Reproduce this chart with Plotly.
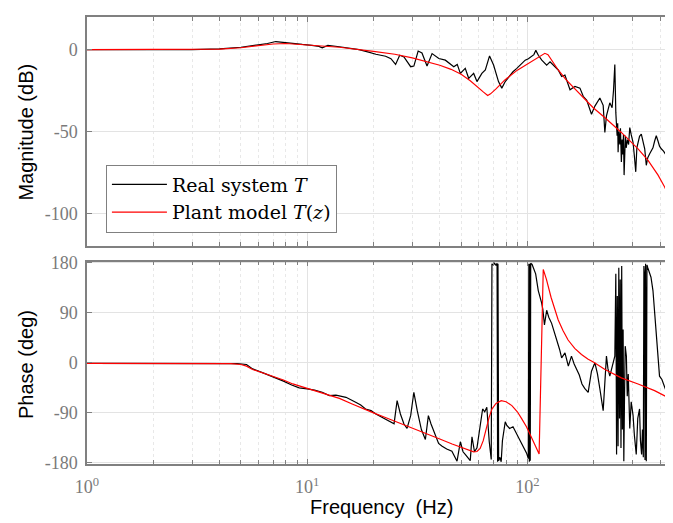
import plotly.graph_objects as go

# ---------------- data ----------------
real_mag_freq = [1.0, 2.0, 3.0, 4.0, 5.0, 6.0, 6.6, 7.2, 7.8, 8.5,
                 9.5, 10.5, 11.3, 11.7, 12.4, 14.0, 15.5, 17.2, 19.0, 20.5,
                 22.7, 24.0, 25.2, 26.3, 27.5, 29.5, 30.5, 31.9, 33.2, 35.0,
                 36.9, 38.5, 39.6, 42.4, 44.5, 46.3, 48.0, 49.6, 52.2, 54.1,
                 57.0, 59.0, 62.1, 64.4, 67.3, 70.2, 73.9, 76.5, 79.3, 83.5,
                 86.0, 89.5, 93.0, 97.7, 101.0, 104.7, 107.0, 109.2, 112.1, 116.2,
                 122.3, 126.7, 133.5, 138.0, 143.0, 148.0, 156.1, 164.4, 173.2, 179.2,
                 186.0, 192.2, 195.4, 202.5, 213.3, 220.8, 224.7, 228.5, 236.7, 242.4,
                 246.0, 249.4, 252.0, 255.4, 257.0, 258.1, 260.0, 262.7, 264.5, 267.1,
                 269.0, 271.0, 273.0, 274.8, 276.5, 278.5, 281.0, 284.3, 288.0, 291.6,
                 296.0, 301.7, 306.0, 310.4, 314.0, 317.9, 323.0, 329.0, 335.0, 340.9,
                 346.6, 352.0, 359.1, 365.0, 371.6, 378.0, 384.7, 392.0, 398.0, 405.3,
                 415.0, 426.9, 437.0, 448.0]
real_mag_db = [0.0, 0.0, 0.1, 0.5, 1.5, 3.0, 3.8, 5.0, 4.4, 3.8,
               3.2, 2.7, 2.0, 1.2, 2.6, 1.8, 0.9, 0.0, -1.5, -2.8,
               -4.0, -5.5, -9.0, -3.4, -4.4, -10.4, -10.0, -0.8, -2.0, -10.0,
               -2.4, -4.5, -5.4, -6.4, -8.5, -10.4, -9.0, -14.5, -11.4, -17.5,
               -14.5, -19.5, -14.5, -12.4, -3.8, -9.4, -19.5, -23.5, -19.5, -15.4,
               -13.5, -11.4, -9.0, -6.4, -5.5, -4.0, -3.0, -0.4, -3.4, -6.4,
               -9.4, -7.4, -10.4, -12.4, -16.4, -15.5, -24.5, -22.5, -23.5, -28.5,
               -31.0, -36.5, -39.5, -34.5, -29.5, -34.0, -50.6, -40.5, -32.5, -35.5,
               -25.0, -9.0, -38.5, -52.6, -45.0, -62.7, -50.0, -58.0, -48.0, -68.7,
               -55.0, -64.0, -52.0, -76.7, -56.0, -52.6, -60.0, -55.0, -58.0, -47.6,
               -52.0, -56.6, -65.0, -74.7, -60.0, -56.6, -53.0, -51.6, -57.0, -60.6,
               -70.7, -66.0, -63.6, -62.0, -60.0, -56.0, -52.6, -56.0, -59.0, -60.6,
               -62.0, -64.6, -66.0, -67.7]

real_phase_freq = [1.0, 2.0, 3.0, 4.0, 4.8, 5.3, 5.65, 6.3, 7.0, 7.8,
                   8.5, 9.2, 10.0, 10.8, 11.7, 12.6, 13.5, 15.0, 16.6, 17.5,
                   18.4, 19.5, 20.5, 21.5, 22.7, 23.8, 24.8, 25.6, 26.5, 27.5,
                   28.4, 29.5, 30.5, 31.6, 33.0, 34.4, 35.5, 36.5, 38.2, 39.5,
                   41.0, 43.0, 45.4, 47.9, 49.6, 51.0, 52.3, 55.0, 56.0, 57.5,
                   59.0, 61.1, 62.6, 64.0, 65.4, 67.1, 68.5, 69.0, 70.0, 71.0,
                   72.0, 72.8, 73.2, 73.5, 74.0, 75.0, 76.0, 77.0, 79.3, 80.5,
                   83.0, 86.0, 90.0, 95.0, 99.0, 101.0, 101.5, 102.0, 102.5, 103.0,
                   103.5, 105.0, 106.4, 109.0, 112.0, 114.0, 116.0, 117.5, 119.5, 122.3,
                   125.0, 128.8, 132.0, 135.8, 140.0, 143.0, 148.1, 153.4, 158.5, 163.0,
                   167.0, 172.0, 176.9, 182.0, 188.7, 195.4, 202.5, 208.0, 213.3, 220.8,
                   228.5, 232.0, 236.7, 243.0, 249.4, 252.0, 254.0, 256.0, 258.0, 260.0,
                   262.0, 264.0, 266.0, 268.0, 270.0, 272.0, 274.0, 276.0, 278.0, 281.4,
                   284.0, 287.0, 291.6, 296.0, 301.7, 306.0, 312.0, 317.0, 323.0, 326.0,
                   330.0, 333.0, 336.0, 338.0, 340.0, 342.0, 344.0, 346.6, 349.0, 352.0,
                   358.0, 364.0, 371.6, 378.0, 384.7, 391.0, 398.0, 408.0, 419.0, 427.0,
                   434.0, 441.0, 448.0]
real_phase_deg = [-1, -1, -1, -1, -1.5, -3, -11, -18, -25, -33,
                  -40, -45, -47, -49, -53, -59, -58, -62, -71, -76,
                  -83, -86, -92, -96, -102, -106, -109.5, -68, -92, -110,
                  -118, -95, -53, -86, -120, -138, -95, -110, -130, -145,
                  -150, -155, -159, -177, -142, -160, -165, -176, -133, -160,
                  -153, -112, -83, -88, -80, -142, -174, 178, 176, 179,
                  175, 179, -178, 178, -176, -170, -178, -140, -106, -112,
                  -118, -115, -130, -150, -162, -172, 178, -178, 178, -176,
                  179, 177, 171, 160, 130, 120, 108, 96, 68, 94.5,
                  82, 71, 58, 41, 24, 9, 18, -6, 12, -2,
                  -12, -22, -38, -46, -53, -15, 0, -20, -47, -86,
                  12, -10, -24, -5, 12, 160, -165, 120, -150, 171,
                  -100, 150, -153, 174, -120, 60, -177, -60, 30, 12,
                  -60, -20, -118, -70, -94, -130, -165, -100, -83, -140,
                  -165, -120, -170, 174, 160, -175, 178, -177, 176, 171,
                  160, 154, 130, 95, 53, 10, -24, -30, -41, -50,
                  -59, -52, -47]

model_mag_freq = [1, 2, 3, 4, 5, 6, 7, 8, 10, 14,
                  20, 25, 30, 35, 40, 45, 50, 55, 60, 63,
                  66, 68, 72, 79, 90, 104, 112, 117, 120, 124,
                  130, 138, 150, 163, 176, 199, 225, 267, 318, 353,
                  392, 420, 435, 448]
model_mag_db = [0, 0, 0.1, 0.4, 1.2, 2.5, 3.5, 3.8, 2.9, 1.5,
                -1.0, -2.8, -5.0, -7.2, -9.5, -12, -15, -19, -23, -25.8,
                -28, -27, -24, -18.5, -12.5, -7.5, -5, -3, -2.2, -3,
                -7.5, -12.4, -18.5, -23.5, -27.5, -35.5, -41.6, -50.6, -60.6, -67.7,
                -76.7, -84, -88.7, -93.7]

model_phase_freq = [1.0, 3.0, 4.5, 5.0, 5.3, 5.65, 6.3, 7.0, 7.8, 8.6,
                    10.0, 11.3, 12.6, 14.0, 16.0, 18.0, 20.0, 22.5, 25.0, 28.0,
                    32.0, 36.0, 40.0, 45.5, 50.0, 54.0, 57.0, 59.0, 61.0, 63.0,
                    65.0, 67.0, 69.0, 72.0, 76.0, 80.0, 85.0, 90.0, 94.0, 99.0,
                    104.0, 108.0, 113.0, 118.0, 122.0, 128.0, 133.0, 138.0, 145.0, 153.0,
                    164.0, 176.0, 188.0, 200.0, 225.0, 267.0, 318.0, 378.0, 448.0]
model_phase_deg = [-1, -1, -1.5, -3, -6, -12, -18, -24, -31, -38,
                   -46, -52, -57, -64, -74, -83, -90, -98, -105, -113,
                   -121, -129, -137, -146, -152, -157, -160, -159.5, -154, -140,
                   -118, -98, -83, -73, -68, -70, -77, -88, -100, -115,
                   -133, -147, -164, 168, 150, 118, 95, 77, 58, 41,
                   26, 15, 7, 1, -12, -27, -38, -50, -65]

mag_ticks = [-100, -50, 0]
mag_tick_text = ["-100", "-50", "0"]
phase_ticks = [-180, -90, 0, 90, 180]
phase_tick_text = ["-180", "-90", "0", "90", "180"]
freq_ticks = [1, 10, 100]
freq_tick_text = ["10<sup>0</sup>", "10<sup>1</sup>", "10<sup>2</sup>"]

# ---------------- figure ----------------
BLACK = "#000000"
RED = "#ff0000"
AX = "#808080"
TICKC = "#7a7a7a"
SERIF = "Liberation Serif, Times New Roman, serif"
LEGSERIF = "DejaVu Serif, serif"
SANS = "Liberation Sans, Arial, Helvetica, sans-serif"

fig = go.Figure()
fig.add_trace(go.Scatter(x=real_mag_freq, y=real_mag_db, mode="lines",
                         line=dict(color=BLACK, width=1.2),
                         name="Real system <i>T</i>", xaxis="x", yaxis="y"))
fig.add_trace(go.Scatter(x=model_mag_freq, y=model_mag_db, mode="lines",
                         line=dict(color=RED, width=1.2),
                         name="Plant model <i>T</i>(<i>z</i>)", xaxis="x", yaxis="y"))
fig.add_trace(go.Scatter(x=real_phase_freq, y=real_phase_deg, mode="lines",
                         line=dict(color=BLACK, width=1.2), showlegend=False,
                         xaxis="x2", yaxis="y2"))
fig.add_trace(go.Scatter(x=model_phase_freq, y=model_phase_deg, mode="lines",
                         line=dict(color=RED, width=1.2), showlegend=False,
                         xaxis="x2", yaxis="y2"))

common_x = dict(type="log", range=[0, 2.652], showline=True, linecolor=AX, linewidth=1.5,
                mirror="ticks", ticks="inside", ticklen=5, tickcolor=AX,
                tickvals=freq_ticks, ticktext=freq_tick_text,
                showgrid=True, gridcolor="#e3e3e3", gridwidth=1, zeroline=False,
                minor=dict(dtick="D1", ticks="inside", ticklen=4, tickcolor=AX,
                           showgrid=True, gridcolor="#e8e8e8", griddash="dot", gridwidth=1))
common_y = dict(showline=True, linecolor=AX, linewidth=1.5, mirror="ticks",
                ticks="inside", ticklen=5, tickcolor=AX,
                showgrid=True, gridcolor="#e3e3e3", gridwidth=1, zeroline=False,
                tickfont=dict(family=SERIF, size=18, color=TICKC), ticklabelstandoff=4)

# the page body has an 8 px margin, so the figure is sized/offset to compensate
fig.update_layout(
    width=665, height=515,
    margin=dict(l=79, r=0, t=1, b=59),
    paper_bgcolor="white", plot_bgcolor="white",
    xaxis=dict(common_x, domain=[0, 1], anchor="y", showticklabels=False),
    yaxis=dict(common_y, domain=[0.4879, 1], range=[-120, 20],
               tickvals=mag_ticks, ticktext=mag_tick_text),
    xaxis2=dict(common_x, domain=[0, 1], anchor="y2", matches="x",
                tickfont=dict(family=SERIF, size=18, color=TICKC), ticklabelstandoff=6),
    yaxis2=dict(common_y, domain=[0, 0.4527], range=[-182, 182],
                tickvals=phase_ticks, ticktext=phase_tick_text),
    showlegend=True,
    legend=dict(x=0.0324, y=0.670, xanchor="left", yanchor="top",
                bgcolor="white", bordercolor=AX, borderwidth=1,
                font=dict(family=LEGSERIF, size=19, color="#000000"),
                tracegroupgap=0, itemwidth=55),
    annotations=[
        dict(text="Magnitude (dB)", xref="paper", yref="paper", x=-0.104, y=0.742,
             xanchor="center", yanchor="middle", textangle=-90, showarrow=False,
             font=dict(family=SANS, size=20, color="#000000")),
        dict(text="Phase (deg)", xref="paper", yref="paper", x=-0.104, y=0.222,
             xanchor="center", yanchor="middle", textangle=-90, showarrow=False,
             font=dict(family=SANS, size=20, color="#000000")),
        dict(text="Frequency  (Hz)", xref="paper", yref="paper", x=0.505, y=-0.097,
             xanchor="center", yanchor="middle", showarrow=False,
             font=dict(family=SANS, size=20, color="#000000")),
    ],
)

fig.write_html("out.html")
